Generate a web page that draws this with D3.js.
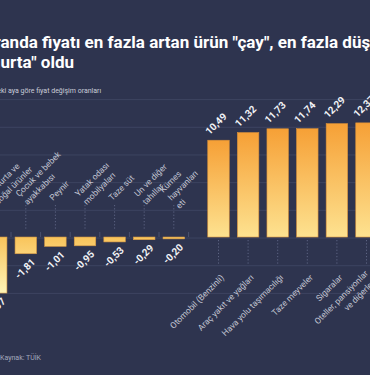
<!DOCTYPE html>
<html>
<head>
<meta charset="utf-8">
<script src="https://cdn.jsdelivr.net/npm/d3@7"></script>
<style>
  html, body { margin: 0; padding: 0; background: #2e344f; overflow: hidden; }
  svg { display: block; font-family: Roboto, "Noto Sans", sans-serif; }
</style>
</head>
<body>
<svg id="chart"></svg>
<script>
// falling items (left group) and rising items (right group)
const negCats = ["Yumurta ve\ndoğal ürünler", "Çocuk ve bebek\nayakkabısı", "Peynir", "Yatak odası\nmobilyaları", "Taze süt", "Un ve diğer\ntahıllar", "Kümes\nhayvanları\neti"];
const negValues = [-6.07, -1.81, -1.01, -0.95, -0.53, -0.29, -0.20];
const posCats = ["Otomobil (Benzinli)", "Araç yakıt ve yağları", "Hava yolu taşımacılığı", "Taze meyveler", "Sigaralar", "Oteller, pansiyonlar\nve diğerleri"];
const posValues = [10.49, 11.32, 11.73, 11.74, 12.29, 12.37];
const gridTicks = [-6, -3, 0, 3, 6, 9, 12, 15];

const width = 370, height = 375;
const svg = d3.select('#chart').attr('width', width).attr('height', height);

svg.append('rect').attr('width', width).attr('height', height).attr('fill', '#2e344f');

// gradients for the bars
const defs = svg.append('defs');
const gPos = defs.append('linearGradient').attr('id', 'gradPos')
  .attr('x1', 0).attr('y1', 0).attr('x2', 0).attr('y2', 1);
gPos.append('stop').attr('offset', '0%').attr('stop-color', '#f6a036');
gPos.append('stop').attr('offset', '100%').attr('stop-color', '#fde290');

const y = d3.scaleLinear().domain([-6, 15]).range([292.4, 98.6]);

const gNeg = defs.append('linearGradient').attr('id', 'gradNeg')
  .attr('gradientUnits', 'userSpaceOnUse')
  .attr('x1', 0).attr('y1', y(0)).attr('x2', 0).attr('y2', y(-6));
gNeg.append('stop').attr('offset', '0%').attr('stop-color', '#f9c45b');
gNeg.append('stop').attr('offset', '100%').attr('stop-color', '#fff4b6');

const xNeg = d3.scaleBand().domain(negCats).range([-18.6, 188.6]).paddingInner(0.274).paddingOuter(0.137);
const xPos = d3.scaleBand().domain(posCats).range([203.7, 381.3]).paddingInner(0.274).paddingOuter(0.137);

// horizontal grid
const grid = svg.append('g').attr('class', 'grid')
  .call(d3.axisRight(y).tickValues(gridTicks).tickSize(width).tickFormat(''));
grid.select('.domain').remove();
grid.selectAll('line').attr('stroke', '#3d4461').attr('stroke-width', 1)
  .attr('transform', 'translate(0,0.5)');

// small ticks between the falling bars
const negStep = xNeg.step();
const tickXs = negCats.map(c => xNeg(c) - negStep * 0.137).concat([xNeg.range()[1]]);
svg.append('g').selectAll('line').data(tickXs).enter().append('line')
  .attr('x1', d => d).attr('x2', d => d)
  .attr('y1', y(0) - 5).attr('y2', y(0))
  .attr('stroke', '#4a5170');

// dotted leader lines
svg.append('g').selectAll('line').data(negCats).enter().append('line')
  .attr('x1', d => xNeg(d) + xNeg.bandwidth() / 2).attr('x2', d => xNeg(d) + xNeg.bandwidth() / 2)
  .attr('y1', y(0) - 32).attr('y2', y(0) - 7)
  .attr('stroke', '#5d6483').attr('stroke-dasharray', '1.2,2');
svg.append('g').selectAll('line').data(posCats).enter().append('line')
  .attr('x1', d => xPos(d) + xPos.bandwidth() / 2).attr('x2', d => xPos(d) + xPos.bandwidth() / 2)
  .attr('y1', y(0) + 3).attr('y2', y(0) + 28)
  .attr('stroke', '#5d6483').attr('stroke-dasharray', '1.2,2');

// bars
svg.append('g').selectAll('rect').data(negCats).enter().append('rect')
  .attr('x', d => xNeg(d)).attr('width', xNeg.bandwidth())
  .attr('y', y(0)).attr('height', (d, i) => y(negValues[i]) - y(0))
  .attr('fill', 'url(#gradNeg)').attr('stroke', '#d89a45').attr('stroke-width', 0.6);
svg.append('g').selectAll('rect').data(posCats).enter().append('rect')
  .attr('x', d => xPos(d)).attr('width', xPos.bandwidth())
  .attr('y', (d, i) => y(posValues[i])).attr('height', (d, i) => y(0) - y(posValues[i]))
  .attr('fill', 'url(#gradPos)').attr('stroke', '#d8903a').attr('stroke-width', 0.6);

const fmt = v => d3.format('.2f')(v).replace('−', '-').replace('.', ',');

// value labels
svg.append('g').selectAll('text').data(posCats).enter().append('text')
  .attr('transform', (d, i) => `translate(${xPos(d) + xPos.bandwidth() / 2 - 9},${y(posValues[i]) - 5}) rotate(-45)`)
  .attr('fill', '#f2f3f7').attr('font-size', 10).attr('font-weight', 'bold')
  .text((d, i) => fmt(posValues[i]));
svg.append('g').selectAll('text').data(negCats).enter().append('text')
  .attr('transform', (d, i) => `translate(${xNeg(d) + xNeg.bandwidth() / 2 + 10},${y(negValues[i]) + 9}) rotate(-45)`)
  .attr('text-anchor', 'end')
  .attr('fill', '#f2f3f7').attr('font-size', 10).attr('font-weight', 'bold')
  .text((d, i) => fmt(negValues[i]));

// category labels
const lh = 11.5;
function multiline(sel) {
  sel.each(function (d) {
    const lines = d.split('\n');
    const t = d3.select(this);
    lines.forEach((ln, k) => {
      t.append('tspan').attr('x', 0)
        .attr('dy', k === 0 ? -(lines.length - 1) / 2 * lh : lh)
        .text(ln);
    });
  });
}
svg.append('g').selectAll('text').data(negCats).enter().append('text')
  .attr('transform', d => `translate(${xNeg(d) + xNeg.bandwidth() / 2 - 4.5},199) rotate(-45)`)
  .attr('dominant-baseline', 'central')
  .attr('fill', '#c3c6d3').attr('font-size', 8.5)
  .call(multiline);
svg.append('g').selectAll('text').data(posCats).enter().append('text')
  .attr('transform', d => `translate(${xPos(d) + xPos.bandwidth() / 2 + 4},276) rotate(-45)`)
  .attr('dominant-baseline', 'central').attr('text-anchor', 'end')
  .attr('fill', '#c3c6d3').attr('font-size', 8.5)
  .call(multiline);

// headline, cut at the left edge like the original frame
function cutText(prefix, rest, xVisible, yBase, size, weight, color) {
  const t = svg.append('text').attr('y', yBase).attr('font-size', size)
    .attr('font-weight', weight).attr('fill', color);
  const p = t.append('tspan').text(prefix);
  t.append('tspan').text(rest);
  const w = p.node().getComputedTextLength();
  t.attr('x', xVisible - w);
}
cutText('Hazir', 'anda fiyatı en fazla artan ürün "çay", en fazla düşen ürün', 0.5, 48, 17, 'bold', '#ffffff');
cutText('"yum', 'urta" oldu', 0.5, 68, 17, 'bold', '#ffffff');
cutText('Bir önce', 'ki aya göre fiyat değişim oranları', 1, 92.5, 7, 'normal', '#c9ccd8');

svg.append('text').attr('x', 0).attr('y', 360).attr('font-size', 7)
  .attr('fill', '#a4a9bd').text('Kaynak: TÜİK');
</script>
</body>
</html>
